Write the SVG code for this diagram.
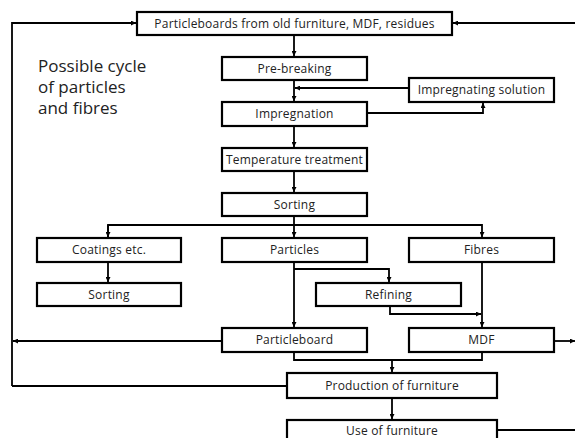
<svg xmlns="http://www.w3.org/2000/svg" width="575" height="438" viewBox="0 0 575 438">
<defs>
<marker id="ah" viewBox="0 0 10 10" refX="10" refY="5" markerWidth="5" markerHeight="5" orient="auto" markerUnits="userSpaceOnUse">
<path d="M0,0 L10,5 L0,10 z" fill="#000"/>
</marker>
<style>
.box{fill:#fff;stroke:#000;stroke-width:2.2}
.lbl{font-family:"Open Sans","Liberation Sans",sans-serif;font-size:12px;letter-spacing:0.2px;fill:#222;text-anchor:middle}
.ln{fill:none;stroke:#000;stroke-width:1.8}
.title{font-family:"Open Sans","Liberation Sans",sans-serif;font-size:17px;fill:#222}
</style>
</defs>
<rect width="575" height="438" fill="#fff"/>
<g id="connectors">
<path class="ln" d="M12,386 L12,23 L136,23" marker-end="url(#ah)"/>
<path class="ln" d="M575,23 L453,23" marker-end="url(#ah)"/>
<path class="ln" d="M294,35 L294,56" marker-end="url(#ah)"/>
<path class="ln" d="M294,80 L294,101" marker-end="url(#ah)"/>
<path class="ln" d="M409,88 L295,88" marker-end="url(#ah)"/>
<path class="ln" d="M367,113 L483,113 L483,103" marker-end="url(#ah)"/>
<path class="ln" d="M294,126 L294,147" marker-end="url(#ah)"/>
<path class="ln" d="M294,171 L294,192" marker-end="url(#ah)"/>
<path class="ln" d="M294,216 L294,237" marker-end="url(#ah)"/>
<path class="ln" d="M108,237 L108,225 L482,225 L482,237" marker-end="url(#ah)"/>
<path class="ln" d="M108,225 L108,237" marker-end="url(#ah)"/>
<path class="ln" d="M108,262 L108,282" marker-end="url(#ah)"/>
<path class="ln" d="M294,262 L294,327" marker-end="url(#ah)"/>
<path class="ln" d="M294,269 L389,269 L389,282" marker-end="url(#ah)"/>
<path class="ln" d="M482,262 L482,327" marker-end="url(#ah)"/>
<path class="ln" d="M390,306 L390,314 L481,314" marker-end="url(#ah)"/>
<path class="ln" d="M222,341 L13,341" marker-end="url(#ah)"/>
<path class="ln" d="M554,341 L575,341" marker-end="url(#ah)"/>
<path class="ln" d="M294,352 L294,360 L482,360 L482,352"/>
<path class="ln" d="M392,360 L392,372" marker-end="url(#ah)"/>
<path class="ln" d="M12,386 L287,386"/>
<path class="ln" d="M392,398 L392,419" marker-end="url(#ah)"/>
<path class="ln" d="M497,430 L575,430"/>
</g>
<text class="title" x="38" y="72">Possible cycle</text>
<text class="title" x="38" y="93">of particles</text>
<text class="title" x="38" y="114">and fibres</text>
<g id="n-source"><rect class="box" x="137" y="12" width="315" height="23"/><text class="lbl" x="294.5" y="28">Particleboards from old furniture, MDF, residues</text></g>
<g id="n-prebreaking"><rect class="box" x="222" y="57" width="145" height="23"/><text class="lbl" x="294.5" y="73">Pre-breaking</text></g>
<g id="n-solution"><rect class="box" x="409" y="78" width="145" height="24"/><text class="lbl" x="481.5" y="94">Impregnating solution</text></g>
<g id="n-impregnation"><rect class="box" x="222" y="102" width="145" height="24"/><text class="lbl" x="294.5" y="118">Impregnation</text></g>
<g id="n-temp"><rect class="box" x="222" y="148" width="145" height="23"/><text class="lbl" x="294.5" y="164">Temperature treatment</text></g>
<g id="n-sorting"><rect class="box" x="222" y="193" width="145" height="23"/><text class="lbl" x="294.5" y="209">Sorting</text></g>
<g id="n-coatings"><rect class="box" x="37" y="238" width="144" height="24"/><text class="lbl" x="109" y="254">Coatings etc.</text></g>
<g id="n-particles"><rect class="box" x="222" y="238" width="145" height="24"/><text class="lbl" x="294.5" y="254">Particles</text></g>
<g id="n-fibres"><rect class="box" x="409" y="238" width="145" height="24"/><text class="lbl" x="481.5" y="254">Fibres</text></g>
<g id="n-sorting2"><rect class="box" x="37" y="283" width="144" height="23"/><text class="lbl" x="109" y="299">Sorting</text></g>
<g id="n-refining"><rect class="box" x="316" y="283" width="145" height="23"/><text class="lbl" x="388.5" y="299">Refining</text></g>
<g id="n-particleboard"><rect class="box" x="222" y="328" width="145" height="24"/><text class="lbl" x="294.5" y="344">Particleboard</text></g>
<g id="n-mdf"><rect class="box" x="409" y="328" width="145" height="24"/><text class="lbl" x="481.5" y="344">MDF</text></g>
<g id="n-production"><rect class="box" x="287" y="373" width="210" height="25"/><text class="lbl" x="392" y="389.5">Production of furniture</text></g>
<g id="n-use"><rect class="box" x="287" y="420" width="210" height="25"/><text class="lbl" x="392" y="435">Use of furniture</text></g>
</svg>
